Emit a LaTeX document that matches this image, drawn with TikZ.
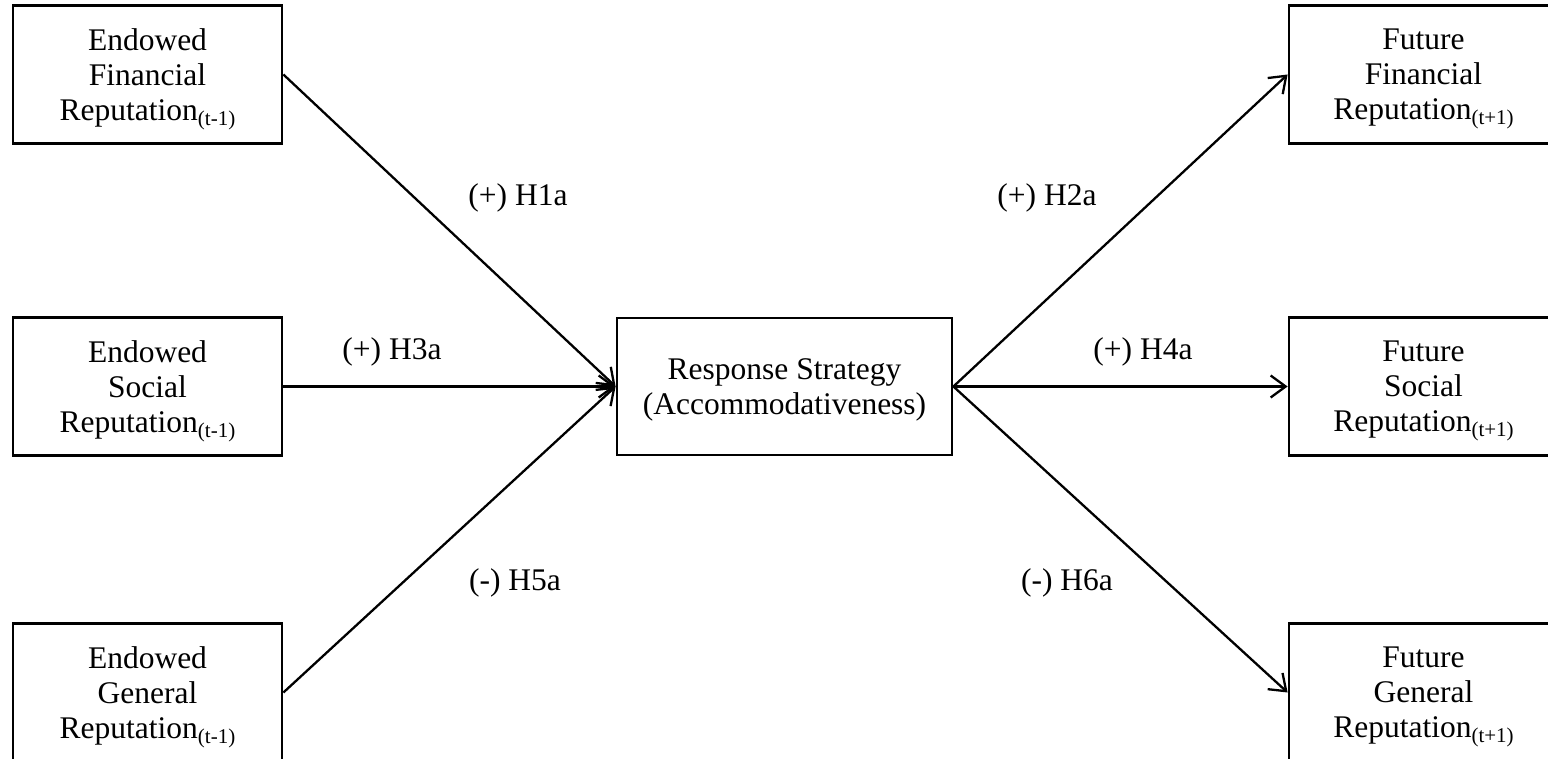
\documentclass[tikz,border=0pt]{standalone}
\usepackage{fontspec}
\setmainfont{Liberation Serif}
\usetikzlibrary{arrows.meta}
\newcommand{\sbs}[1]{\raisebox{-5pt}[0pt][0pt]{\fontsize{21}{21}\selectfont #1}}
\begin{document}
\begin{tikzpicture}[x=1pt,y=-1pt,
  box/.style={draw, line width=2.8pt, minimum width=269pt, minimum height=138pt, align=center, font=\fontsize{31.5}{35}\selectfont, inner sep=0pt, text depth=0pt},
  centerbox/.style={box, minimum width=335pt, minimum height=137pt},
  link/.style={line width=2.3pt, -{Straight Barb[length=15pt,width=22pt,line width=2.3pt]}},
  lab/.style={font=\fontsize{31.5}{35}\selectfont, inner sep=0pt}
]
\useasboundingbox (0,0) rectangle (1548,759);
\clip (0,0) rectangle (1548,759);
\fill[white] (0,0) rectangle (1548,759);

\node[box] (efin) at (147.5,74.5) {Endowed\\Financial\\Reputation\sbs{(t-1)}};
\node[box] (esoc) at (147.5,386.5) {Endowed\\Social\\Reputation\sbs{(t-1)}};
\node[box] (egen) at (147.5,692.5) {Endowed\\General\\Reputation\sbs{(t-1)}};

\node[centerbox] (rs) at (784.5,386.5) {Response Strategy\\(Accommodativeness)};

\node[box] (ffin) at (1423.5,74.5) {Future\\Financial\\Reputation\sbs{(t+1)}};
\node[box] (fsoc) at (1423.5,386.5) {Future\\Social\\Reputation\sbs{(t+1)}};
\node[box] (fgen) at (1423.5,692.5) {Future\\General\\Reputation\sbs{(t+1)}};

\draw[link] (efin.east) -- (rs.west);
\draw[link] (esoc.east) -- (rs.west);
\draw[link] (egen.east) -- (rs.west);
\draw[link] (rs.east) -- (ffin.west);
\draw[link] (rs.east) -- (fsoc.west);
\draw[link] (rs.east) -- (fgen.west);

\node[lab] (h1) at (518,198) {(+) H1a};
\node[lab] (h2) at (1047,198) {(+) H2a};
\node[lab] (h3) at (392,352) {(+) H3a};
\node[lab] (h4) at (1143,352) {(+) H4a};
\node[lab] (h5) at (515,583) {(-) H5a};
\node[lab] (h6) at (1067,583) {(-) H6a};
\end{tikzpicture}
\end{document}
